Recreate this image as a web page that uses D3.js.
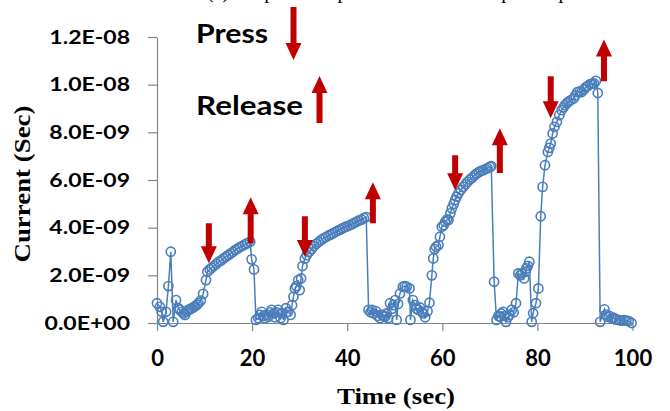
<!DOCTYPE html>
<html>
<head>
<meta charset="utf-8">
<script src="https://cdn.jsdelivr.net/npm/d3@7"></script>
<style>
  body { margin: 0; background: #fff; }
  svg { display: block; }
</style>
</head>
<body>
<svg width="670" height="411"></svg>
<script>
// time of each sample (sec)
var timeSec = [
  0.0, 0.6, 1.0, 1.3, 1.9, 2.4, 2.9, 3.4, 4.0, 4.5, 4.8, 5.2, 5.6, 5.9, 6.2, 6.6, 7.0, 7.3, 7.7, 8.0,
  8.4, 8.7, 9.2, 9.7, 10.3, 10.6, 11.1, 11.5, 12.0, 12.5, 13.0, 13.5, 14.0, 14.5, 15.0, 15.5, 16.0, 16.5, 17.0, 17.5,
  18.0, 18.5, 19.0, 19.6, 19.9, 20.4, 20.8, 21.3, 21.7, 22.0, 22.4, 22.7, 23.1, 23.4, 23.8, 24.1, 24.5, 24.8, 25.2, 25.5,
  26.0, 26.3, 26.6, 27.1, 27.6, 28.1, 28.4, 28.7, 29.0, 29.3, 29.7, 30.0, 30.3, 30.6, 31.1, 31.5, 32.0, 32.5, 33.0, 33.5,
  34.0, 34.5, 35.0, 35.5, 36.0, 36.5, 37.0, 37.5, 38.0, 38.5, 39.0, 39.5, 40.0, 40.5, 41.0, 41.5, 42.0, 42.5, 43.0, 43.5,
  44.0, 44.5, 44.9, 45.2, 45.6, 46.0, 46.4, 46.9, 47.3, 47.7, 48.0, 48.3, 48.6, 49.0, 49.4, 49.7, 50.1, 50.4, 50.7, 51.1,
  51.7, 52.1, 52.5, 53.1, 53.3, 53.8, 54.3, 54.6, 55.0, 55.3, 55.7, 56.0, 56.4, 56.9, 57.3, 57.8, 58.1, 58.4, 58.7, 59.2,
  59.5, 59.9, 60.3, 60.6, 61.0, 61.3, 61.7, 62.0, 62.4, 62.7, 63.0, 63.4, 63.9, 64.4, 64.9, 65.3, 65.8, 66.3, 66.8, 67.2,
  67.7, 68.1, 68.6, 69.1, 69.5, 70.0, 70.3, 70.9, 71.4, 71.8, 72.1, 72.4, 72.8, 73.1, 73.4, 73.8, 74.1, 74.6, 75.0, 75.5,
  76.0, 76.4, 76.7, 77.2, 77.5, 77.7, 78.0, 78.3, 78.8, 79.1, 79.7, 80.2, 80.7, 81.1, 81.6, 82.2, 82.5, 82.8, 83.2, 83.6,
  84.1, 84.6, 85.1, 85.5, 85.8, 86.2, 86.5, 87.0, 87.6, 88.0, 88.4, 88.9, 89.3, 89.8, 90.2, 90.6, 91.1, 91.5, 91.9, 92.3,
  92.7, 93.2, 94.1, 94.4, 94.7, 95.1, 95.6, 96.0, 96.4, 96.7, 97.2, 97.7, 98.2, 98.7, 99.2, 99.8
];

// current, in units of 1E-09
var currentNano = [
  0.83, 0.68, 0.47, 0.05, 0.47, 1.55, 2.99, 0.05, 0.96, 0.62, 0.55, 0.47, 0.40, 0.34, 0.47, 0.55, 0.58, 0.62, 0.66, 0.71,
  0.76, 0.83, 0.94, 1.22, 1.80, 2.15, 2.25, 2.32, 2.40, 2.48, 2.57, 2.63, 2.71, 2.78, 2.85, 2.92, 2.99, 3.07, 3.13, 3.19,
  3.24, 3.30, 3.35, 3.41, 2.67, 2.25, 0.13, 0.20, 0.34, 0.47, 0.30, 0.20, 0.35, 0.26, 0.45, 0.55, 0.40, 0.24, 0.45, 0.55,
  0.20, 0.40, 0.13, 0.62, 0.47, 0.34, 0.75, 1.10, 1.45, 1.55, 1.80, 1.38, 1.87, 2.39, 2.70, 2.85, 2.98, 3.10, 3.22, 3.32,
  3.40, 3.48, 3.55, 3.60, 3.66, 3.71, 3.76, 3.82, 3.87, 3.92, 3.97, 4.02, 4.06, 4.10, 4.15, 4.20, 4.25, 4.30, 4.34, 4.40,
  4.44, 0.55, 0.45, 0.55, 0.40, 0.50, 0.30, 0.20, 0.35, 0.30, 0.26, 0.40, 0.20, 0.83, 0.60, 0.75, 0.96, 0.13, 0.80, 1.24,
  1.52, 1.55, 1.52, 1.45, 0.13, 0.96, 0.75, 0.60, 0.55, 0.65, 0.47, 0.40, 0.24, 0.50, 0.85, 2.00, 2.71, 3.10, 3.20, 3.27,
  3.62, 4.04, 4.10, 4.25, 4.35, 4.32, 4.60, 4.81, 5.00, 5.16, 5.30, 5.44, 5.58, 5.71, 5.82, 5.92, 6.02, 6.10, 6.20, 6.27,
  6.33, 6.38, 6.41, 6.46, 6.50, 6.55, 6.58, 1.73, 0.13, 0.30, 0.26, 0.40, 0.47, 0.30, 0.05, 0.25, 0.34, 0.55, 0.45, 0.83,
  2.08, 2.00, 2.08, 1.87, 2.15, 2.29, 2.40, 2.57, 0.05, 0.41, 0.83, 1.45, 4.48, 5.71, 6.62, 7.18, 7.35, 7.53, 7.95, 8.23,
  8.44, 8.72, 8.93, 9.05, 9.14, 9.22, 9.28, 9.35, 9.42, 9.55, 9.69, 9.72, 9.69, 9.80, 9.90, 9.95, 10.02, 10.04, 10.05, 10.16,
  9.65, 0.05, 0.57, 0.35, 0.26, 0.30, 0.20, 0.22, 0.15, 0.15, 0.12, 0.10, 0.12, 0.10, 0.08, 0.00
];

var xTicks = [0, 20, 40, 60, 80, 100];
var yTicks = [0, 2, 4, 6, 8, 10, 12];

// annotation arrows: time, start value, tip value (1E-09)
var pressArrows = [
  { t: 10.9, from: 4.19, to: 2.51 },
  { t: 31.1, from: 4.48, to: 2.77 },
  { t: 62.7, from: 7.04, to: 5.57 },
  { t: 82.8, from: 10.35, to: 8.59 }
];
var releaseArrows = [
  { t: 19.7, from: 3.35, to: 5.28 },
  { t: 45.4, from: 4.19, to: 5.91 },
  { t: 72.1, from: 6.29, to: 8.17 },
  { t: 94.0, from: 10.14, to: 11.9 }
];

function main() {
    var svg = d3.select("svg");
    var blue = "#4a7ebb", red = "#c00000", axisGray = "#868686";
    var sans = "Lato, 'Liberation Sans', sans-serif";
    var serif = "'Liberation Serif', 'Times New Roman', serif";

    var x = d3.scaleLinear().domain([0, 100]).range([157, 632.5]);
    var y = d3.scaleLinear().domain([0, 12]).range([323, 37]);

    var points = timeSec.map(function(t, i) { return { t: t, v: currentNano[i] }; });

    // stretch a text to a given width
    function fitWidth(sel, w) {
        sel.attr("textLength", w).attr("lengthAdjust", "spacingAndGlyphs");
    }

    // scientific labels like 1.2E-08
    function sci(d) {
        var v = d * 1e-9;
        if (v === 0) return "0.0E+00";
        var e = Math.floor(Math.log10(v) + 1e-9);
        var m = v / Math.pow(10, e);
        return m.toFixed(1) + "E-" + String(-e).padStart(2, "0");
    }

    // cut-off caption at the very top
    svg.append("text")
        .attr("x", 207).attr("y", -2)
        .style("font-family", serif).style("font-size", "20px")
        .text("(c) Response of pressure sensor to repeated press");

    // axes
    var yAxis = svg.append("g")
        .attr("transform", "translate(" + x(0) + ",0)")
        .call(d3.axisLeft(y).tickValues(yTicks).tickSize(9).tickSizeOuter(0).tickPadding(18).tickFormat(sci));
    var xAxis = svg.append("g")
        .attr("transform", "translate(0," + y(0) + ")")
        .call(d3.axisBottom(x).tickValues(xTicks).tickSize(8).tickSizeOuter(0).tickPadding(19));

    [yAxis, xAxis].forEach(function(a) {
        a.select(".domain").attr("stroke", axisGray).attr("stroke-width", 1.2);
        a.selectAll(".tick line").attr("stroke", axisGray).attr("stroke-width", 1.2);
        a.selectAll("text").attr("fill", "#000")
            .style("font-family", sans).style("font-weight", "bold");
    });
    yAxis.selectAll("text").style("font-size", "19.5px").each(function() {
        var w = this.getComputedTextLength();
        d3.select(this).attr("textLength", w * 1.18).attr("lengthAdjust", "spacingAndGlyphs");
    });
    xAxis.selectAll("text").style("font-size", "22px");

    // axis titles
    svg.append("text")
        .attr("x", 396).attr("y", 404)
        .attr("text-anchor", "middle")
        .style("font-family", serif).style("font-weight", "bold").style("font-size", "24px")
        .text("Time  (sec)")
        .call(fitWidth, 118);

    svg.append("text")
        .attr("transform", "translate(30,184) rotate(-90)")
        .attr("text-anchor", "middle")
        .style("font-family", serif).style("font-weight", "bold").style("font-size", "24px")
        .text("Current  (Sec)")
        .call(fitWidth, 157);

    // data line and markers
    var line = d3.line()
        .x(function(d) { return x(d.t); })
        .y(function(d) { return y(d.v); });

    svg.append("path")
        .datum(points)
        .attr("d", line)
        .attr("fill", "none")
        .attr("stroke", blue)
        .attr("stroke-width", 1.5);

    svg.selectAll(".pt")
        .data(points)
        .enter().append("circle")
        .attr("class", "pt")
        .attr("cx", function(d) { return x(d.t); })
        .attr("cy", function(d) { return y(d.v); })
        .attr("r", 4.6)
        .attr("fill", "none")
        .attr("stroke", blue)
        .attr("stroke-width", 1.6);

    // block arrow from y0 to tip y1
    function arrowPath(cx, y0, y1) {
        var dir = y1 > y0 ? 1 : -1;
        var hb = y1 - dir * 17;
        return "M" + (cx - 3) + "," + y0 + "L" + (cx + 3) + "," + y0 +
               "L" + (cx + 3) + "," + hb + "L" + (cx + 8) + "," + hb +
               "L" + cx + "," + y1 + "L" + (cx - 8) + "," + hb +
               "L" + (cx - 3) + "," + hb + "Z";
    }

    svg.selectAll(".arrow")
        .data(pressArrows.concat(releaseArrows))
        .enter().append("path")
        .attr("class", "arrow")
        .attr("d", function(d) { return arrowPath(x(d.t), y(d.from), y(d.to)); })
        .attr("fill", red);

    // legend
    svg.append("text")
        .attr("x", 196).attr("y", 43)
        .style("font-family", sans).style("font-weight", "bold").style("font-size", "27px")
        .text("Press")
        .call(fitWidth, 72);
    svg.append("path").attr("d", arrowPath(293.5, 7, 60)).attr("fill", red);

    svg.append("text")
        .attr("x", 196).attr("y", 115)
        .style("font-family", sans).style("font-weight", "bold").style("font-size", "27px")
        .text("Release")
        .call(fitWidth, 107);
    svg.append("path").attr("d", arrowPath(319.5, 123, 76)).attr("fill", red);
}

main();
</script>
</body>
</html>
